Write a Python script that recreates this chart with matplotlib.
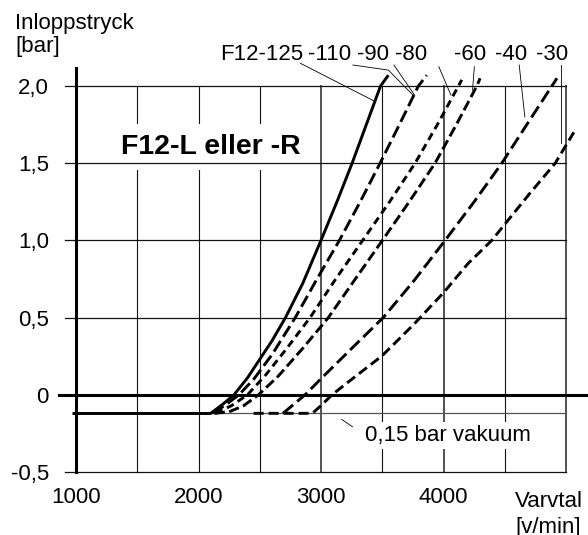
import matplotlib
matplotlib.use("Agg")
import matplotlib.pyplot as plt

plt.rcParams['font.family'] = ['Liberation Sans', 'DejaVu Sans']
plt.rcParams['lines.scale_dashes'] = False

# ---- data ----
x_ticks = [1000, 2000, 3000, 4000]
x_tick_labels = ['1000', '2000', '3000', '4000']
y_ticks = [-0.5, 0.0, 0.5, 1.0, 1.5, 2.0]
y_tick_labels = ['-0,5', '0', '0,5', '1,0', '1,5', '2,0']
x_grid = [1500, 2000, 2500, 3000, 3500, 4000, 4500, 5000]
vacuum_level = -0.12

c125_x = [2100, 2200, 2290, 2400, 2500, 2600, 2710, 2850, 3000, 3130, 3254, 3370, 3486, 3550]
c125_y = [-0.12, -0.06, 0.0, 0.11, 0.23, 0.35, 0.5, 0.72, 1.0, 1.25, 1.5, 1.75, 2.0, 2.07]
c110_x = [2120, 2230, 2330, 2450, 2600, 2790, 2960, 3150, 3320, 3482, 3640, 3795, 3863]
c110_y = [-0.12, -0.06, 0.0, 0.1, 0.26, 0.5, 0.74, 1.0, 1.25, 1.5, 1.75, 2.0, 2.07]
c80_x = [2140, 2270, 2400, 2550, 2720, 2911, 3120, 3340, 3560, 3768, 3950, 4122, 4149]
c80_y = [-0.12, -0.07, 0.0, 0.13, 0.3, 0.5, 0.75, 1.0, 1.25, 1.5, 1.75, 2.0, 2.04]
c60_x = [2130, 2250, 2370, 2490, 2650, 2850, 3060, 3280, 3501, 3720, 3931, 4105, 4272, 4299]
c60_y = [-0.12, -0.11, -0.07, 0.0, 0.12, 0.3, 0.5, 0.75, 1.0, 1.25, 1.5, 1.75, 2.0, 2.05]
c40_x = [2690, 2870, 3020, 3250, 3508, 3760, 4013, 4250, 4476, 4680, 4885, 4926]
c40_y = [-0.12, 0.0, 0.12, 0.3, 0.5, 0.74, 1.0, 1.25, 1.5, 1.75, 2.0, 2.05]
c30_x = [2450, 2930, 3000, 3090, 3250, 3495, 3750, 3999, 4200, 4394, 4511, 4700, 4912, 5064]
c30_y = [-0.12, -0.12, -0.07, 0.0, 0.1, 0.25, 0.45, 0.66, 0.85, 1.0, 1.115, 1.3, 1.5, 1.70]
flat_x = [970, 2100]
flat_y = [vacuum_level, vacuum_level]

curve_labels = ['F12-125', '-110', '-90', '-80', '-60', '-40', '-30']
curve_label_x = [2176, 2895, 3290, 3600, 4084, 4420, 4756]

# ---- figure ----
fig = plt.figure(figsize=(5.88, 5.35), dpi=100)
ax = fig.add_axes([76/588, 63/535, 490/588, 386/535])
ax.set_xlim(1000, 5000)
ax.set_ylim(-0.5, 2.0)
for s in ax.spines.values():
    s.set_visible(False)

ax.set_xticks(x_ticks)
ax.set_xticklabels(x_tick_labels)
ax.set_yticks(y_ticks)
ax.set_yticklabels(y_tick_labels)
ax.tick_params(axis='x', length=0, pad=11, labelsize=16)
ax.tick_params(axis='y', length=0, pad=19.5, labelsize=16)

# vertical grid
for xv in x_grid:
    heavy = xv in (3000, 4000, 5000)
    ax.plot([xv, xv], [-0.5, 2.0], color='#444444' if heavy else '#111111',
            lw=1.3 if heavy else 0.8, zorder=1, clip_on=False)
# horizontal grid
for yv in [-0.5, 0.5, 1.0, 1.5, 2.0]:
    ax.plot([910, 5000], [yv, yv], color='#111111', lw=0.9, zorder=4, clip_on=False)
ax.plot([1000, 5000], [vacuum_level, vacuum_level], color='#555555', lw=0.9, zorder=4, clip_on=False)
# axes lines
ax.plot([862, 5170], [0, 0], color='black', lw=2.2, zorder=4, clip_on=False)
ax.plot([1000, 1000], [-0.5, 2.115], color='black', lw=2.2, zorder=4, clip_on=False)

# curves
kw = dict(color='black', lw=2.1, zorder=6, clip_on=False, solid_capstyle='butt', dash_capstyle='butt')
ax.plot(flat_x, flat_y, **kw)
ax.plot(c125_x, c125_y, **kw)
ax.plot(c110_x, c110_y, dashes=(9, 3.6), **kw)
ax.plot(c80_x, c80_y, dashes=(5.5, 3.5), **kw)
ax.plot(c60_x, c60_y, dashes=(7.5, 3.2), **kw)
ax.plot(c40_x, c40_y, dashes=(9.5, 3.8), **kw)
ax.plot(c30_x, c30_y, dashes=(7.2, 3.6), **kw)

# leader lines
lk = dict(color='black', lw=0.6, zorder=5, clip_on=False)
ax.plot([2832, 3443], [2.147, 1.899], **lk)
ax.plot([3260, 3550, 3750], [2.136, 2.103, 1.942], **lk)
ax.plot([3595, 3763], [2.136, 1.942], **lk)
ax.plot([3962, 4060], [2.125, 1.942], **lk)
ax.plot([4252, 4237], [2.125, 1.974], **lk)
ax.plot([4618, 4664], [2.136, 1.80], **lk)
ax.plot([4963, 4963], [2.136, 1.63], **lk)
ax.plot([3168, 3257], [-0.159, -0.207], **lk)

# curve labels
for lab, xv in zip(curve_labels, curve_label_x):
    ax.text(xv, 2.207, lab, ha='left', va='center', fontsize=16, clip_on=False)

# title
ax.text(1366, 1.605, 'F12-L eller -R', ha='left', va='center', fontsize=20.5,
        fontweight='bold', zorder=3,
        bbox=dict(facecolor='white', edgecolor='none', pad=7))

ax.text(3359, -0.264, '0,15 bar vakuum', ha='left', va='center', fontsize=16, zorder=3,
        bbox=dict(facecolor='white', edgecolor='none', pad=2))

# axis titles
ax.text(502, 2.367, 'Inloppstryck', ha='left', va='baseline', fontsize=16, clip_on=False)
ax.text(502, 2.22, '[bar]', ha='left', va='baseline', fontsize=16, clip_on=False)
ax.text(4584, -0.726, 'Varvtal', ha='left', va='baseline', fontsize=16, clip_on=False)
ax.text(4584, -0.895, '[v/min]', ha='left', va='baseline', fontsize=16, clip_on=False)

fig.savefig('out.png', dpi=100)
